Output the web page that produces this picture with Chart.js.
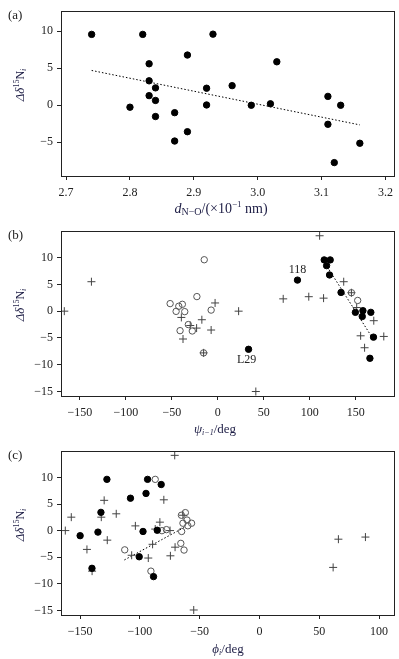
<!DOCTYPE html>
<html>
<head>
<meta charset="utf-8">
<script src="https://cdn.jsdelivr.net/npm/chart.js@4"></script>
<style>
  html, body { margin: 0; padding: 0; background: #fff; }
  #wrap { position: relative; width: 399px; height: 659px; }
  canvas { position: absolute; left: 0; }
</style>
</head>
<body>
<div id="wrap">
  <canvas id="chartA" width="399" height="220" style="top:0"></canvas>
  <canvas id="chartB" width="399" height="220" style="top:220px"></canvas>
  <canvas id="chartC" width="399" height="219" style="top:440px"></canvas>
</div>
<script>
// ---- panel (a): shift vs N-O distance
const aX = [2.74, 2.82, 2.93, 2.89, 3.03, 2.83, 2.83, 2.84, 2.92, 2.96, 2.83, 2.84, 3.11, 2.80, 2.92, 2.99, 3.02, 3.13, 2.87, 2.84, 2.87, 2.89, 3.11, 3.16, 3.12];
const aY = [9.57, 9.57, 9.6, 6.78, 5.87, 5.6, 3.3, 2.35, 2.3, 2.65, 1.3, 0.65, 1.2, -0.26, 0.04, 0, 0.2, 0, -1.0, -1.52, -4.83, -3.57, -2.57, -5.13, -7.74];
const aFitX = [2.74, 3.16];
const aFitY = [4.7, -2.65];
const aXTicks = [2.7, 2.8, 2.9, 3.0, 3.1, 3.2];
const aYTicks = [-5, 0, 5, 10];

// ---- panel (b): shift vs psi(i-1)
const bFilledX = [115.8, 122.3, 118.4, 121.6, 86.7, 134.1, 149.7, 157.9, 157.2, 166.5, 169.4, 165.5, 33.5];
const bFilledY = [9.57, 9.57, 8.5, 6.76, 5.8, 3.5, -0.22, 0.09, -0.99, -0.22, -4.85, -8.8, -7.12];
const bOpenX = [-51.8, -42.4, -45.3, -38.5, -35.9, -22.7, -14.7, -7.2, -41, -32, -27.7, -15.4, 145.4, 152.2];
const bOpenY = [1.41, 0.92, -0.04, 1.28, -0.09, 2.72, 9.6, 0.2, -3.64, -2.5, -3.7, -7.79, 3.44, 2.0];
const bPlusX = [-166.9, -137.4, 110.8, 71.2, 99, 115.1, 137, 22.7, -2.9, -39.6, -17.3, -29.9, -23, -7.2, -37.8, -15.4, 41.4, 151.1, 155.4, 159.7, 180.6, 169.7, 145.4];
const bPlusY = [0, 5.5, 14.08, 2.3, 2.7, 2.43, 5.5, 0, 1.53, -1.17, -1.6, -2.68, -3.16, -3.52, -5.2, -7.79, -15, 0.68, -4.6, -6.83, -4.72, -1.78, 3.44];
const bFitX = [119, 169];
const bFitY = [8.3, -5.2];
const bNoteText = ['118', 'L29'];
const bNoteIndex = [4, 12];
const bXTicks = [-150, -100, -50, 0, 50, 100, 150];

// ---- panel (c): shift vs phi(i)
const cFilledX = [-150, -140.1, -135.1, -132.6, -127.6, -107.9, -97.4, -100.6, -94.9, -93.6, -82.2, -85.5, -88.6];
const cFilledY = [-0.94, -7.07, -0.27, 3.44, 9.64, 6.1, -0.15, -4.9, 7.0, 9.64, 8.67, 0.08, -8.63];
const cOpenX = [-87.2, -112.7, -90.8, -81.6, -77.8, -65.1, -62, -65.3, -60.6, -64, -56.8, -59.9, -65.8, -63.1];
const cOpenY = [9.64, -3.6, -7.6, 0, 0.2, -0.15, 3.39, 2.9, 2.0, 1.4, 1.4, 0.92, -2.38, -3.64];
const cPlusX = [-162.4, -157.4, -144.3, -129.9, -132.3, -127.3, -119.8, -140, -103.8, -106.9, -93, -89.4, -87.2, -83.3, -80, -74.8, -70.6, -74.5, -70.9, -55, 61.6, 66, 88.6, -64];
const cPlusY = [0.02, 2.54, -3.52, 5.7, 2.54, -1.78, 3.17, -7.6, 0.9, -4.62, -5.14, -2.56, 0.3, 1.6, 5.8, 0.02, -3.1, -4.72, 14.15, -14.9, -6.9, -1.6, -1.2, 2.9];
const cFitX = [-113, -63];
const cFitY = [-5.5, 0.6];
const cXTicks = [-150, -100, -50, 0, 50, 100];

const bcYTicks = [-15, -10, -5, 0, 5, 10];

const SERIF = '"Liberation Serif", "DejaVu Serif", serif';
const INK = '#1d1d45';
const AXIS = '#222';

function pts(xs, ys) {
    return xs.map((x, i) => ({ x: x, y: ys[i] }));
}

function minusSign(s) {
    return String(s).replace('-', '\u2212');
}

// draw one line of mixed-font text centred on (x, y)
function drawRich(ctx, segs, x, y, angle) {
    ctx.save();
    ctx.translate(x, y);
    ctx.rotate(angle || 0);
    let total = 0;
    segs.forEach(s => { ctx.font = s.font; total += ctx.measureText(s.t).width; });
    let cx = -total / 2;
    ctx.textBaseline = 'middle';
    ctx.textAlign = 'left';
    segs.forEach(s => {
        ctx.font = s.font;
        ctx.fillStyle = s.color || INK;
        ctx.fillText(s.t, cx, s.dy || 0);
        cx += ctx.measureText(s.t).width;
    });
    ctx.restore();
}

const yTitle = [
    { t: '\u0394\u03b4', font: 'italic 13px ' + SERIF },
    { t: '15', font: '8px ' + SERIF, dy: -4 },
    { t: 'N', font: '12px ' + SERIF },
    { t: 'i', font: 'italic 8px ' + SERIF, dy: 3 }
];

// frame, panel letter, axis titles and point notes
function decor(cfg) {
    return {
        id: 'decor',
        afterDraw(chart) {
            const ctx = chart.ctx;
            const a = chart.chartArea;
            ctx.save();
            ctx.strokeStyle = AXIS;
            ctx.lineWidth = 1;
            ctx.strokeRect(Math.round(a.left) + 0.5, Math.round(a.top) + 0.5,
                Math.round(a.right - a.left), Math.round(a.bottom - a.top));
            ctx.font = '13px ' + SERIF;
            ctx.fillStyle = AXIS;
            ctx.textBaseline = 'middle';
            ctx.textAlign = 'left';
            ctx.fillText(cfg.letter, 8, 16);
            drawRich(ctx, yTitle, 21, 85, -Math.PI / 2);
            drawRich(ctx, cfg.xTitle, cfg.xTitleX, cfg.xTitleY, 0);
            if (cfg.notes) {
                const xs = chart.scales.x, ys = chart.scales.y;
                ctx.font = '12px ' + SERIF;
                ctx.fillStyle = AXIS;
                ctx.textAlign = 'center';
                cfg.notes.forEach(n => {
                    const px = xs.getPixelForValue(n.x);
                    const py = ys.getPixelForValue(n.y);
                    ctx.fillText(n.text, px + n.dx, py + n.dy);
                });
            }
            ctx.restore();
        }
    };
}

function axis(min, max, ticks, fmt, which) {
    return {
        type: 'linear',
        min: min,
        max: max,
        afterBuildTicks: s => { s.ticks = ticks.map(v => ({ value: v })); },
        afterFit: s => { if (which === 'y') s.width = 61; else s.height = 44; },
        grid: { drawOnChartArea: false, drawTicks: true, tickLength: 4, color: AXIS, lineWidth: 1 },
        border: { display: true, color: AXIS, width: 1 },
        ticks: {
            font: { family: SERIF, size: 12 },
            color: AXIS,
            padding: which === 'y' ? 4 : 6,
            maxRotation: 0,
            callback: v => minusSign(fmt ? fmt(v) : v)
        }
    };
}

function filled(xs, ys) {
    return { data: pts(xs, ys), pointStyle: 'circle', pointRadius: 3.2, backgroundColor: '#000', borderColor: '#000', borderWidth: 1 };
}
function open(xs, ys) {
    return { data: pts(xs, ys), pointStyle: 'circle', pointRadius: 3.2, backgroundColor: 'rgba(0,0,0,0)', borderColor: '#555', borderWidth: 1 };
}
function plus(xs, ys) {
    return { data: pts(xs, ys), pointStyle: 'cross', pointRadius: 4, borderColor: '#444', borderWidth: 1 };
}
function fit(xs, ys) {
    return { data: pts(xs, ys), showLine: true, borderColor: '#000', borderWidth: 1, borderDash: [1.5, 2], pointRadius: 0, fill: false };
}

function makePanel(id, p) {
    return new Chart(document.getElementById(id).getContext('2d'), {
        type: 'scatter',
        data: { datasets: p.datasets },
        options: {
            responsive: false,
            animation: false,
            devicePixelRatio: 1,
            layout: { padding: { top: 5, right: 3, left: 0, bottom: 0 } },
            plugins: { legend: { display: false }, tooltip: { enabled: false } },
            scales: {
                x: axis(p.xMin, p.xMax, p.xTicks, p.xFmt, 'x'),
                y: axis(p.yMin, p.yMax, p.yTicks, null, 'y')
            }
        },
        plugins: [decor(p.decor)]
    });
}

makePanel('chartA', {
    datasets: [filled(aX, aY), fit(aFitX, aFitY)],
    xMin: 2.692, xMax: 3.213, xTicks: aXTicks, xFmt: v => v.toFixed(1),
    yMin: -9.55, yMax: 12.7, yTicks: aYTicks,
    decor: {
        letter: '(a)', xTitleX: 221, xTitleY: 209,
        xTitle: [
            { t: 'd', font: 'italic 14px ' + SERIF },
            { t: 'N\u2212O', font: '10px ' + SERIF, dy: 3 },
            { t: '/(\u00d710', font: '14px ' + SERIF },
            { t: '\u22121', font: '9px ' + SERIF, dy: -4 },
            { t: ' nm)', font: '14px ' + SERIF }
        ]
    }
});

makePanel('chartB', {
    datasets: [filled(bFilledX, bFilledY), open(bOpenX, bOpenY), plus(bPlusX, bPlusY), fit(bFitX, bFitY)],
    xMin: -170.5, xMax: 191.7, xTicks: bXTicks,
    yMin: -15.84, yMax: 14.93, yTicks: bcYTicks,
    decor: {
        letter: '(b)', xTitleX: 215, xTitleY: 210,
        xTitle: [
            { t: '\u03c8', font: 'italic 13px ' + SERIF },
            { t: 'i\u22121', font: 'italic 8px ' + SERIF, dy: 3 },
            { t: '/deg', font: '13px ' + SERIF }
        ],
        notes: bNoteIndex.map((k, i) => ({ text: bNoteText[i], x: bFilledX[k], y: bFilledY[k], dx: i === 0 ? 0 : -2, dy: i === 0 ? -10 : 11 }))
    }
});

makePanel('chartC', {
    datasets: [filled(cFilledX, cFilledY), open(cOpenX, cOpenY), plus(cPlusX, cPlusY), fit(cFitX, cFitY)],
    xMin: -166, xMax: 112.5, xTicks: cXTicks,
    yMin: -15.84, yMax: 14.93, yTicks: bcYTicks,
    decor: {
        letter: '(c)', xTitleX: 228, xTitleY: 210,
        xTitle: [
            { t: '\u03d5', font: 'italic 13px ' + SERIF },
            { t: 'i', font: 'italic 8px ' + SERIF, dy: 3 },
            { t: '/deg', font: '13px ' + SERIF }
        ]
    }
});
</script>
</body>
</html>
